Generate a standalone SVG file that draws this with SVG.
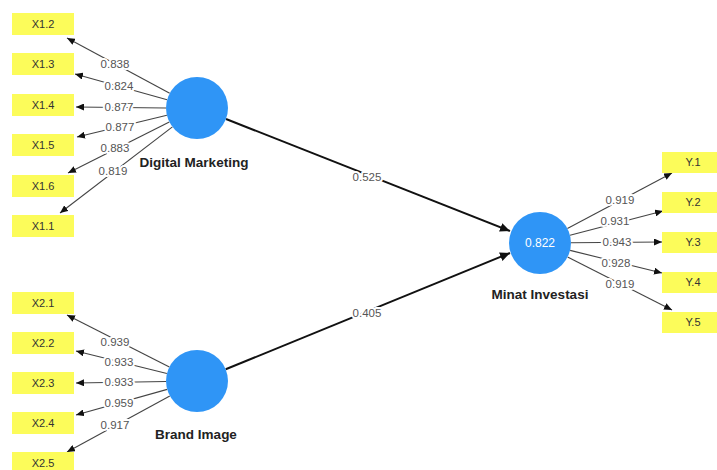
<svg xmlns="http://www.w3.org/2000/svg" width="717" height="470" viewBox="0 0 717 470">
<style>
.ind rect{fill:#fcfc5a}
.ind text{font-family:"Liberation Sans",Arial,sans-serif;font-size:11px;fill:#333;text-anchor:middle}
.lv circle{fill:#2f95f6}
.lv text.name{font-family:"Liberation Sans",Arial,sans-serif;font-size:13.5px;font-weight:bold;fill:#222;text-anchor:middle}
.lv text.val{font-family:"Liberation Sans",Arial,sans-serif;font-size:12px;fill:#fff;text-anchor:middle}
.m line{stroke:#444;stroke-width:1.1;marker-end:url(#ah)}
.s line{stroke:#111;stroke-width:2;marker-end:url(#ahb)}
.lbl{font-family:"Liberation Sans",Arial,sans-serif;font-size:11.5px;fill:#555;text-anchor:middle;stroke:#fff;stroke-width:4;paint-order:stroke;stroke-linejoin:round}
</style>
<defs>
<marker id="ah" markerUnits="userSpaceOnUse" markerWidth="9" markerHeight="7" refX="8" refY="3.5" orient="auto"><path d="M0,0 L8,3.5 L0,7 z" fill="#111"/></marker>
<marker id="ahb" markerUnits="userSpaceOnUse" markerWidth="11" markerHeight="9" refX="10" refY="4.5" orient="auto"><path d="M0,0 L10,4.5 L0,9 z" fill="#111"/></marker>
</defs>
<rect width="717" height="470" fill="#fff"/>
<g id="connectors">
<g class="m">
<line x1="169.7" y1="93.3" x2="67" y2="38"/>
<line x1="167.1" y1="99.7" x2="75" y2="74"/>
<line x1="166" y1="108" x2="76" y2="107"/>
<line x1="166.9" y1="115.3" x2="77" y2="137"/>
<line x1="169.3" y1="121.9" x2="68" y2="173"/>
<line x1="172.4" y1="126.9" x2="60" y2="213"/>
<line x1="169.4" y1="367" x2="67" y2="315"/>
<line x1="166.9" y1="373.5" x2="76" y2="351"/>
<line x1="166" y1="381.5" x2="76" y2="383"/>
<line x1="167.2" y1="389.4" x2="76" y2="415"/>
<line x1="169.8" y1="395.9" x2="67" y2="452"/>
<line x1="567.4" y1="228.5" x2="672" y2="173"/>
<line x1="570" y1="235.2" x2="663" y2="211"/>
<line x1="571" y1="242.7" x2="662" y2="242"/>
<line x1="570.1" y1="250.4" x2="662" y2="273"/>
<line x1="567.6" y1="257" x2="672" y2="310"/>
</g>
<g class="s">
<line x1="226" y1="119" x2="510" y2="231"/>
<line x1="225.7" y1="369.3" x2="510" y2="253"/>
</g>
<text class="lbl" x="115" y="68">0.838</text>
<text class="lbl" x="119" y="90">0.824</text>
<text class="lbl" x="119" y="111">0.877</text>
<text class="lbl" x="120" y="131">0.877</text>
<text class="lbl" x="115" y="152">0.883</text>
<text class="lbl" x="113" y="175">0.819</text>
<text class="lbl" x="115" y="346">0.939</text>
<text class="lbl" x="119" y="366">0.933</text>
<text class="lbl" x="119" y="386">0.933</text>
<text class="lbl" x="119" y="407">0.959</text>
<text class="lbl" x="115" y="429">0.917</text>
<text class="lbl" x="620" y="204">0.919</text>
<text class="lbl" x="615" y="225">0.931</text>
<text class="lbl" x="617" y="246">0.943</text>
<text class="lbl" x="616" y="267">0.928</text>
<text class="lbl" x="620" y="288">0.919</text>
<text class="lbl" x="367" y="181">0.525</text>
<text class="lbl" x="367" y="317">0.405</text>
</g>
<g id="x12" class="ind"><rect x="12" y="13" width="62" height="22"/><text x="43" y="28">X1.2</text></g>
<g id="x13" class="ind"><rect x="12" y="53" width="62" height="22"/><text x="43" y="68">X1.3</text></g>
<g id="x14" class="ind"><rect x="12" y="94" width="62" height="22"/><text x="43" y="109">X1.4</text></g>
<g id="x15" class="ind"><rect x="12" y="134" width="62" height="22"/><text x="43" y="149">X1.5</text></g>
<g id="x16" class="ind"><rect x="12" y="175" width="62" height="22"/><text x="43" y="190">X1.6</text></g>
<g id="x11" class="ind"><rect x="12" y="215" width="62" height="22"/><text x="43" y="230">X1.1</text></g>
<g id="x21" class="ind"><rect x="12" y="292" width="62" height="22"/><text x="43" y="307">X2.1</text></g>
<g id="x22" class="ind"><rect x="12" y="332" width="62" height="22"/><text x="43" y="347">X2.2</text></g>
<g id="x23" class="ind"><rect x="12" y="372" width="62" height="22"/><text x="43" y="387">X2.3</text></g>
<g id="x24" class="ind"><rect x="12" y="412" width="62" height="22"/><text x="43" y="427">X2.4</text></g>
<g id="x25" class="ind"><rect x="12" y="452" width="62" height="22"/><text x="43" y="467">X2.5</text></g>
<g id="y1" class="ind"><rect x="662" y="152" width="62" height="21"/><text x="693" y="166">Y.1</text></g>
<g id="y2" class="ind"><rect x="662" y="192" width="62" height="21"/><text x="693" y="206">Y.2</text></g>
<g id="y3" class="ind"><rect x="662" y="232" width="62" height="21"/><text x="693" y="246">Y.3</text></g>
<g id="y4" class="ind"><rect x="662" y="272" width="62" height="21"/><text x="693" y="286">Y.4</text></g>
<g id="y5" class="ind"><rect x="662" y="312" width="62" height="21"/><text x="693" y="326">Y.5</text></g>
<g id="dm" class="lv"><circle cx="197" cy="108" r="31"/><text class="name" x="194" y="167">Digital Marketing</text></g>
<g id="bi" class="lv"><circle cx="197" cy="381" r="31"/><text class="name" x="196" y="439">Brand Image</text></g>
<g id="mi" class="lv"><circle cx="540" cy="243" r="31"/><text class="val" x="540" y="247">0.822</text><text class="name" x="540" y="299">Minat Investasi</text></g>
</svg>
